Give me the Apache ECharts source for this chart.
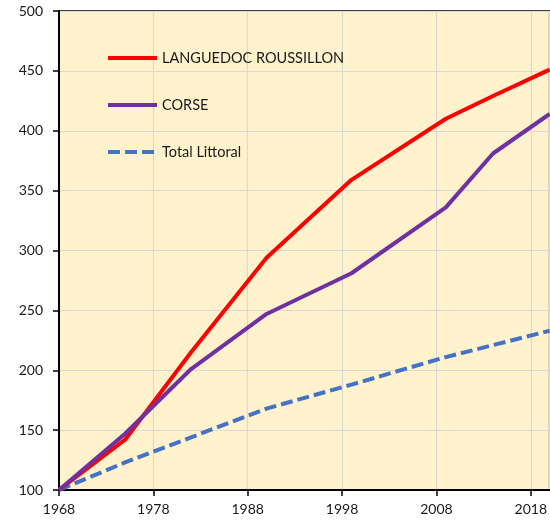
<!DOCTYPE html>
<html>
<head>
<meta charset="utf-8">
<script src="https://cdn.jsdelivr.net/npm/echarts@6/dist/echarts.min.js"></script>
<style>
html,body{margin:0;padding:0;background:#fff;}
#chart{width:550px;height:522px;}
</style>
</head>
<body>
<div id="chart"></div>
<script>
const baseYear = 1968;
const years = [1968, 1975, 1982, 1990, 1999, 2009, 2014, 2020];
const languedoc = [100, 142, 215, 294, 359, 410, 429, 451];
const corse = [100, 147, 201, 247, 281, 336, 381, 414];
const littoral = [100, 123, 144, 168, 188, 211, 221, 233];
const seriesNames = ['LANGUEDOC ROUSSILLON', 'CORSE', 'Total Littoral'];
const yTicks = {min: 100, max: 500, step: 50};
const xTicks = {first: 1968, last: 2020, step: 10};

function pairs(vals) { return years.map((y, i) => [y - baseYear, vals[i]]); }

const chart = echarts.init(document.getElementById('chart'), null, {renderer: 'canvas'});
const font = 'Lato';
chart.setOption({
  animation: false,
  backgroundColor: '#ffffff',
  grid: {
    left: 59, right: -2, top: 11, bottom: 32,
    show: true, backgroundColor: '#FFF2CC', borderColor: '#000', borderWidth: 1.5
  },
  legend: {
    orient: 'vertical',
    left: 106, top: 50, padding: 0,
    itemWidth: 49, itemHeight: 16, itemGap: 31,
    textStyle: {fontFamily: font, fontSize: 14.5, color: '#1a1a1a', lineHeight: 16},
    itemStyle: {opacity: 0},
    lineStyle: {width: 4},
    data: seriesNames
  },
  xAxis: {
    type: 'value',
    min: xTicks.first - baseYear, max: xTicks.last - baseYear, interval: xTicks.step,
    axisLine: {show: true, lineStyle: {color: '#000', width: 2}},
    axisTick: {show: true, length: 6, lineStyle: {color: '#000', width: 1.5}},
    axisLabel: {
      fontFamily: font, fontSize: 14, color: '#1a1a1a', margin: 12,
      showMaxLabel: false,
      formatter: v => String(v + baseYear)
    },
    splitLine: {show: true, lineStyle: {color: '#d9d9d9', width: 1.2}}
  },
  yAxis: {
    type: 'value',
    min: yTicks.min, max: yTicks.max, interval: yTicks.step,
    axisLine: {show: true, lineStyle: {color: '#000', width: 2}},
    axisTick: {show: true, length: 6, lineStyle: {color: '#000', width: 1.5}},
    axisLabel: {fontFamily: font, fontSize: 14, color: '#1a1a1a', margin: 16},
    splitLine: {show: true, lineStyle: {color: '#d9d9d9', width: 1.2}}
  },
  series: [
    {name: seriesNames[0], type: 'line', data: pairs(languedoc), symbol: 'none',
     lineStyle: {color: '#FF0000', width: 4}, itemStyle: {color: '#FF0000'}, z: 4},
    {name: seriesNames[1], type: 'line', data: pairs(corse), symbol: 'none',
     lineStyle: {color: '#7030A0', width: 4}, itemStyle: {color: '#7030A0'}, z: 5},
    {name: seriesNames[2], type: 'line', data: pairs(littoral), symbol: 'none',
     lineStyle: {color: '#4472C4', width: 4, type: [12, 5]}, itemStyle: {color: '#4472C4'}, z: 3}
  ]
});
</script>
</body>
</html>
